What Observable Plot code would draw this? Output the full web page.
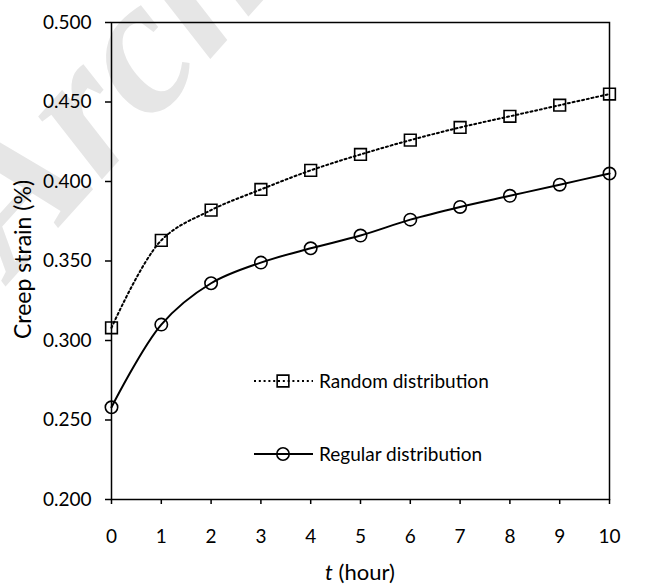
<!DOCTYPE html>
<html>
<head>
<meta charset="utf-8">
<script src="https://cdn.jsdelivr.net/npm/d3@7"></script>
<script src="https://cdn.jsdelivr.net/npm/@observablehq/plot@0.6"></script>
<style>
  html, body { margin: 0; padding: 0; background: white; }
  #wrap { position: relative; width: 655px; height: 585px; overflow: hidden; }
  #wm { position: absolute; left: 0; top: 0; font-family: "Liberation Serif", "DejaVu Serif", serif;
        font-style: italic; font-weight: bold; font-size: 195px; line-height: 1; color: #e6e6e6; white-space: nowrap;
        transform-origin: 0 0; transform: translate(-109px, 170px) rotate(-48deg); }
  #chart { position: absolute; left: 0; top: 0; }
</style>
</head>
<body>
<div id="wrap">
  <div id="wm">Archive</div>
  <div id="chart"></div>
</div>
<script>
const hours = [0, 1, 2, 3, 4, 5, 6, 7, 8, 9, 10];
const randomStrain = [0.308, 0.363, 0.382, 0.395, 0.407, 0.417, 0.426, 0.434, 0.441, 0.448, 0.455];
const regularStrain = [0.258, 0.310, 0.336, 0.349, 0.358, 0.366, 0.376, 0.384, 0.391, 0.398, 0.405];
const yTicks = [0.2, 0.25, 0.3, 0.35, 0.4, 0.45, 0.5];
const seriesNames = ["Random distribution", "Regular distribution"];
const xTitle = ["t", " (hour)"];
const yTitle = "Creep strain (%)";

const randomData = hours.map((t, i) => ({t, v: randomStrain[i]}));
const regularData = hours.map((t, i) => ({t, v: regularStrain[i]}));

const FONT = "Lato, 'Open Sans', sans-serif";
const FS = 19;
const TFS = 22;

const chart = Plot.plot({
  width: 655,
  height: 585,
  marginLeft: 111,
  marginRight: 46,
  marginTop: 22,
  marginBottom: 86,
  style: {fontFamily: FONT, fontSize: FS + "px", background: "transparent", color: "black"},
  x: {domain: [0, 10]},
  y: {domain: [0.2, 0.5]},
  marks: [
    Plot.axisX({ticks: hours, tickSize: 5, tickPadding: 25, label: null, stroke: "black", strokeWidth: 1.5, fill: "black"}),
    Plot.axisY({ticks: yTicks, tickSize: 6, tickPadding: 14, tickFormat: d3.format(".3f"), label: null, stroke: "black", strokeWidth: 1.5, fill: "black"}),
    Plot.line(randomData, {x: "t", y: "v", curve: "catmull-rom", stroke: "black", strokeWidth: 2, strokeDasharray: "2,2.8"}),
    Plot.line(regularData, {x: "t", y: "v", curve: "catmull-rom", stroke: "black", strokeWidth: 2}),
    Plot.dot(randomData, {x: "t", y: "v", symbol: "square", r: 6.6, stroke: "black", strokeWidth: 1.6, fill: "none"}),
    Plot.dot(regularData, {x: "t", y: "v", symbol: "circle", r: 6.2, stroke: "black", strokeWidth: 1.6, fill: "none"}),
    Plot.frame({stroke: "black", strokeWidth: 1.5})
  ]
});
document.getElementById("chart").appendChild(chart);

const svg = d3.select(chart);
const xr = chart.scale("x").range, yr = chart.scale("y").range;
const cx = (xr[0] + xr[1]) / 2, cy = (yr[0] + yr[1]) / 2;

// axis titles
const xt = svg.append("text").attr("x", cx).attr("y", 580).attr("text-anchor", "middle")
  .attr("font-family", FONT).attr("font-size", TFS).attr("fill", "black");
xt.append("tspan").attr("font-style", "italic").text(xTitle[0]);
xt.append("tspan").text(xTitle[1]);
svg.append("text").attr("transform", `translate(31,${cy - 1}) rotate(-90)`).attr("text-anchor", "middle")
  .attr("font-family", FONT).attr("font-size", 23).attr("fill", "black").text(yTitle);

// legend
const lg = svg.append("g").attr("font-family", FONT).attr("font-size", FS).attr("fill", "black")
  .attr("text-anchor", "start");
const legendRows = [
  {name: seriesNames[0], y: 381, dash: "2,2.8", symbol: d3.symbolSquare, size: Math.PI * 6.6 * 6.6},
  {name: seriesNames[1], y: 454, dash: null, symbol: d3.symbolCircle, size: Math.PI * 6.2 * 6.2}
];
legendRows.forEach(r => {
  lg.append("line").attr("x1", 254).attr("x2", 313).attr("y1", r.y).attr("y2", r.y)
    .attr("stroke", "black").attr("stroke-width", 2).attr("stroke-dasharray", r.dash);
  lg.append("path").attr("d", d3.symbol(r.symbol, r.size)()).attr("transform", `translate(283,${r.y})`)
    .attr("fill", "none").attr("stroke", "black").attr("stroke-width", 1.6);
  lg.append("text").attr("x", 319).attr("y", r.y).attr("dy", "0.35em").attr("text-anchor", "start").text(r.name);
});
</script>
</body>
</html>
